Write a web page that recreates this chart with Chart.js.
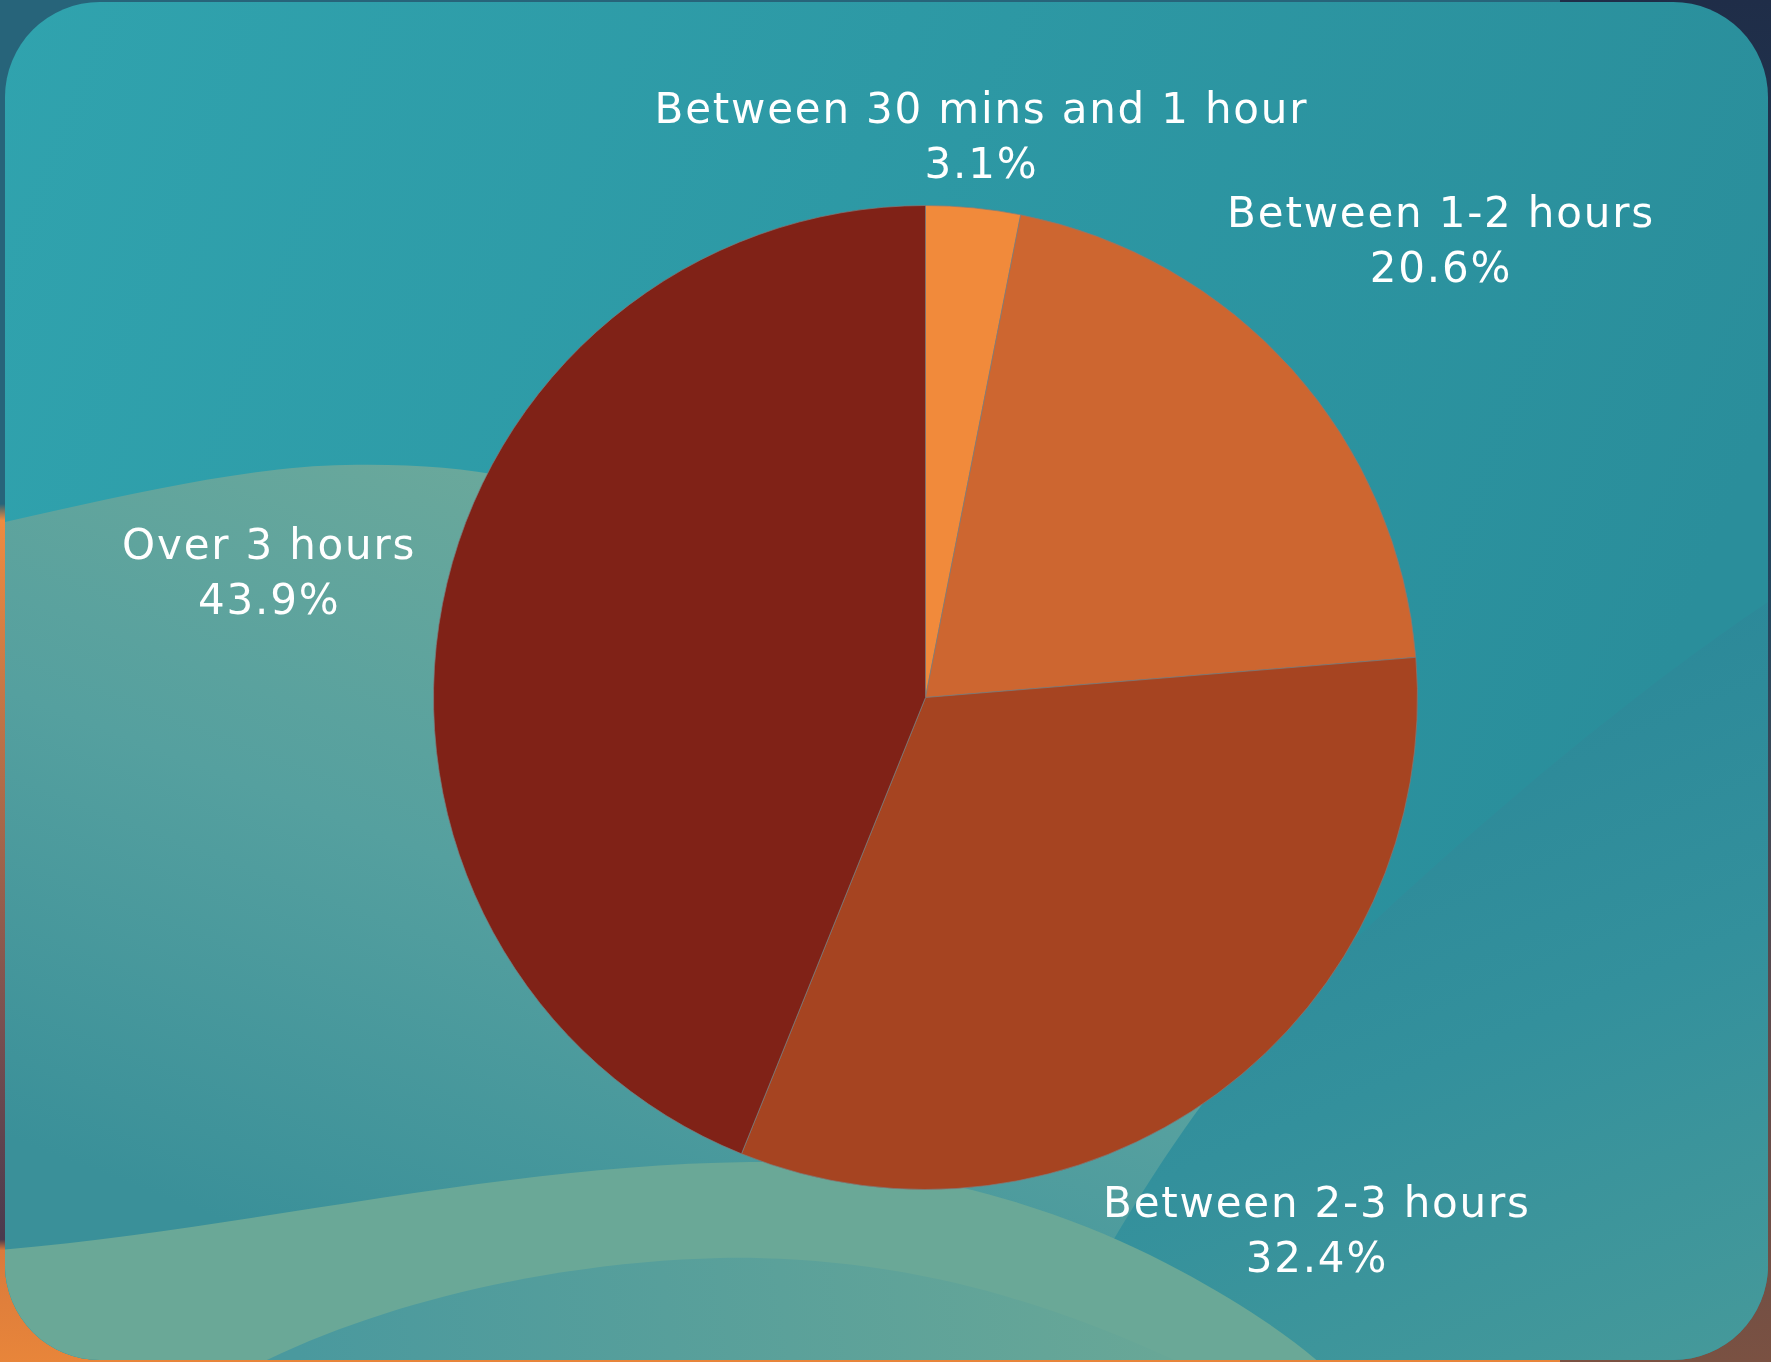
<!DOCTYPE html>
<html>
<head>
<meta charset="utf-8">
<title>Time spent</title>
<script src="https://cdn.jsdelivr.net/npm/chart.js@4.4.1/dist/chart.umd.min.js"></script>
<style>
  html, body { margin: 0; padding: 0; overflow: hidden; background: #244a62; }
  #stage { position: relative; width: 1771px; height: 1362px; }
  #bg { position: absolute; left: 0; top: 0; }
  #chartBox { position: absolute; left: 0; top: 0; width: 1771px; height: 1362px; }
</style>
</head>
<body>
<div id="stage">
  <svg id="bg" width="1771" height="1362" viewBox="0 0 1771 1362">
    <defs>
      <linearGradient id="outerL" x1="0" y1="0" x2="0" y2="1">
        <stop offset="0" stop-color="#27647a"/>
        <stop offset="0.37" stop-color="#27647a"/>
        <stop offset="0.382" stop-color="#ef8b40"/>
        <stop offset="0.55" stop-color="#b87048"/>
        <stop offset="0.75" stop-color="#7a5050"/>
        <stop offset="0.91" stop-color="#4a3a4e"/>
        <stop offset="0.918" stop-color="#d97a3c"/>
        <stop offset="1" stop-color="#e8853a"/>
      </linearGradient>
      <linearGradient id="outerR" x1="0" y1="0" x2="0" y2="1">
        <stop offset="0" stop-color="#1f2d48"/>
        <stop offset="0.45" stop-color="#24465e"/>
        <stop offset="0.75" stop-color="#5e4a4c"/>
        <stop offset="1" stop-color="#7a5142"/>
      </linearGradient>
      <linearGradient id="panelBase" x1="0" y1="0" x2="1" y2="0.3">
        <stop offset="0" stop-color="#30a3ae"/>
        <stop offset="1" stop-color="#2a8e9b"/>
      </linearGradient>
      <linearGradient id="blobA" gradientUnits="userSpaceOnUse" x1="600" y1="470" x2="300" y2="1250">
        <stop offset="0" stop-color="#6ca99b"/>
        <stop offset="0.5" stop-color="#55a09f"/>
        <stop offset="1" stop-color="#3a9099"/>
      </linearGradient>
      <linearGradient id="blobD" gradientUnits="userSpaceOnUse" x1="1450" y1="720" x2="1720" y2="1362">
        <stop offset="0" stop-color="#2c8999"/>
        <stop offset="0.45" stop-color="#33909c"/>
        <stop offset="1" stop-color="#45999a"/>
      </linearGradient>
      <linearGradient id="blobC" gradientUnits="userSpaceOnUse" x1="300" y1="1362" x2="1150" y2="1250">
        <stop offset="0" stop-color="#4a999e"/>
        <stop offset="1" stop-color="#68a797"/>
      </linearGradient>
      <clipPath id="panelClip">
        <rect x="5" y="2" width="1763" height="1358" rx="95" ry="95"/>
      </clipPath>
    </defs>
    <rect width="1771" height="1362" fill="url(#outerL)"/>
    <rect x="1560" y="0" width="211" height="1362" fill="url(#outerR)"/>
    <g clip-path="url(#panelClip)">
      <rect x="0" y="0" width="1771" height="1362" fill="url(#panelBase)"/>
      <path d="M5,522 C120,496 250,466 346,465 C450,463 520,475 600,500 L1150,800 L1200,1000 L1300,1372 L0,1372 Z" fill="url(#blobA)"/>
      <path d="M1771,600 C1620,700 1420,870 1262,1030 C1200,1100 1130,1200 1040,1372 L1771,1372 Z" fill="url(#blobD)"/>
      <path d="M0,1250 C250,1228 500,1165 749,1162 C900,1160 1050,1205 1150,1255 C1230,1295 1290,1335 1330,1372 L0,1372 Z" fill="#6aa897"/>
      <path d="M243,1372 C380,1300 560,1262 720,1258 C900,1255 1050,1300 1200,1372 Z" fill="url(#blobC)"/>
    </g>
  </svg>
  <div id="chartBox"><canvas id="pieChart"></canvas></div>
</div>

<script>
const categories = ['Between 30 mins and 1 hour', 'Between 1-2 hours', 'Between 2-3 hours', 'Over 3 hours']
const shares = [3.1, 20.6, 32.4, 43.9]
const sliceColors = ['#F18A3B', '#CD6630', '#A64421', '#802217']

const labelFont = '42px "DejaVu Sans"'
const labelSpacing = 1.8

// labels sit outside each slice, pushed out along the slice's middle angle
const outsideLabels = {
    id: 'outsideLabels',
    afterDatasetsDraw(chart) {
        const ctx = chart.ctx
        const meta = chart.getDatasetMeta(0)
        ctx.save()
        ctx.font = labelFont
        ctx.letterSpacing = labelSpacing + 'px'
        ctx.fillStyle = '#ffffff'
        ctx.textAlign = 'center'
        ctx.textBaseline = 'alphabetic'
        meta.data.forEach((arc, i) => {
            const { x, y, startAngle, endAngle, outerRadius } =
                arc.getProps(['x', 'y', 'startAngle', 'endAngle', 'outerRadius'], true)
            const mid = (startAngle + endAngle) / 2
            const vx = Math.cos(mid)
            const vy = Math.sin(mid)
            const lines = [categories[i], shares[i].toFixed(1) + '%']
            const w = Math.max(...lines.map(t => ctx.measureText(t).width))
            const dist = outerRadius + 31 + Math.abs(vx) * w / 2 + Math.abs(vy) * 11
            const cx = x + vx * dist + labelSpacing / 2
            const cy = y + vy * dist
            ctx.fillText(lines[0], cx, cy - 11)
            ctx.fillText(lines[1], cx, cy + 44)
        })
        ctx.restore()
    }
}

Chart.defaults.font.family = '"DejaVu Sans", sans-serif'

new Chart(document.getElementById('pieChart'), {
    type: 'pie',
    data: {
        labels: categories,
        datasets: [{
            data: shares,
            backgroundColor: sliceColors,
            borderColor: 'rgba(125,125,125,0.7)',
            borderWidth: 1,
            hoverOffset: 0
        }]
    },
    options: {
        responsive: true,
        maintainAspectRatio: false,
        animation: false,
        layout: { padding: { top: 205, bottom: 172, left: 433, right: 353 } },
        plugins: {
            legend: { display: false },
            tooltip: { enabled: false }
        }
    },
    plugins: [outsideLabels]
})
</script>
</body>
</html>
